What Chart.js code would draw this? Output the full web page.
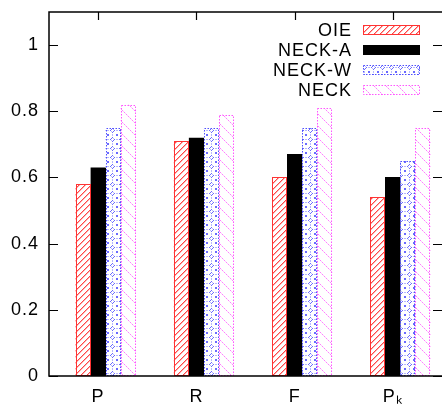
<!DOCTYPE html>
<html>
<head>
<meta charset="utf-8">
<script src="https://cdn.jsdelivr.net/npm/chart.js@4/dist/chart.umd.min.js"></script>
<style>
html,body{margin:0;padding:0;background:#fff;}
#wrap{width:442px;height:405px;overflow:hidden;position:relative;}
#c{position:absolute;left:0;top:0;}
</style>
</head>
<body>
<div id="wrap"><canvas id="c" width="442" height="405"></canvas></div>
<script>
const categories = ['P', 'R', 'F', 'Pₖ'];
const seriesNames = ['OIE', 'NECK-A', 'NECK-W', 'NECK'];
const oie   = [0.58, 0.71, 0.60, 0.54];
const neckA = [0.63, 0.72, 0.67, 0.60];
const neckW = [0.75, 0.75, 0.75, 0.65];
const neck  = [0.82, 0.79, 0.81, 0.75];
const spacer = [null, null, null, null];
const yTicks = [0, 0.2, 0.4, 0.6, 0.8, 1];

const FONT = '"Liberation Sans", Arial, sans-serif';

function tile(w, h, draw) {
  const c = document.createElement('canvas');
  c.width = w; c.height = h;
  const g = c.getContext('2d');
  g.fillStyle = '#ffffff'; g.fillRect(0, 0, w, h);
  draw(g);
  return document.getElementById('c').getContext('2d').createPattern(c, 'repeat');
}
const patOIE = tile(6, 6, g => {
  for (let i = 0; i < 6; i++) {
    g.fillStyle = '#ff4646'; g.fillRect(i, 5 - i, 1, 1);
    g.fillStyle = '#ffb0b0'; g.fillRect(i, (6 - i) % 6, 1, 1);
  }
});
const patW = tile(9, 9, g => {
  g.fillStyle = '#6a6aff';
  [[4,2],[2,4],[6,4],[4,6],[3,3],[5,5],[0,0],[8,8],[8,0],[0,8]].forEach(p => g.fillRect(p[0], p[1], 1, 1));
  g.fillStyle = '#b8b8ff';
  [[3,5],[5,3],[4,0],[0,4],[8,4],[4,8]].forEach(p => g.fillRect(p[0], p[1], 1, 1));
});
const patN = tile(12, 12, g => {
  for (let i = 0; i < 12; i += 2) {
    g.fillStyle = '#ff80ff'; g.fillRect(i, i, 1, 1);
    g.fillStyle = '#ffc8ff'; g.fillRect(i + 1, i + 1, 1, 1);
  }
});

const styles = [
  { fill: patOIE, line: '#ff3333', dash: [] },
  { fill: '#000000', line: '#000000', dash: [] },
  { fill: patW, line: '#4f4fff', dash: [1.5, 1.5] },
  { fill: patN, line: '#ff55ff', dash: [1.5, 1.5] }
];
const values = [oie, neckA, neckW, neck];

const datasets = [{ label: '', data: spacer, backgroundColor: 'rgba(0,0,0,0)', isSpacer: true }];
values.forEach((v, i) => datasets.push({
  label: seriesNames[i], data: v,
  backgroundColor: styles[i].fill, borderWidth: 0,
  outlineColor: styles[i].line, outlineDash: styles[i].dash
}));

const framePlugin = {
  id: 'frame',
  beforeDraw(chart) {
    chart.ctx.letterSpacing = '1px';
  },
  beforeDatasetsDraw(chart) {
    const { ctx, chartArea: a, scales } = chart;
    ctx.save();
    ctx.strokeStyle = '#000'; ctx.lineWidth = 1.2;
    ctx.beginPath();
    yTicks.forEach(t => {
      const y = Math.round(scales.y.getPixelForValue(t)) + 0.5;
      ctx.moveTo(a.left, y); ctx.lineTo(a.left + 9, y);
      ctx.moveTo(a.right, y); ctx.lineTo(a.right - 9, y);
    });
    categories.forEach((c, i) => {
      const x = Math.round(scales.x.getPixelForValue(i)) + 0.5;
      ctx.moveTo(x, a.top); ctx.lineTo(x, a.top + 8);
      ctx.moveTo(x, a.bottom); ctx.lineTo(x, a.bottom - 8);
    });
    ctx.stroke();
    ctx.restore();
  },
  afterDatasetsDraw(chart) {
    const { ctx, chartArea: a } = chart;
    ctx.save();
    chart.data.datasets.forEach((ds, di) => {
      if (ds.isSpacer) return;
      const meta = chart.getDatasetMeta(di);
      ctx.strokeStyle = ds.outlineColor; ctx.lineWidth = 1;
      ctx.setLineDash(ds.outlineDash);
      meta.data.forEach(el => {
        const p = el.getProps(['x', 'y', 'base', 'width'], true);
        if (!isFinite(p.y)) return;
        ctx.strokeRect(Math.round(p.x - p.width / 2) + 0.5, Math.round(p.y) + 0.5,
                       Math.round(p.width) - 1, Math.round(p.base - p.y) - 1);
      });
    });
    ctx.setLineDash([]);
    // frame: left, top, bottom (right edge lies just outside the picture)
    ctx.strokeStyle = '#000'; ctx.lineWidth = 1.5;
    ctx.beginPath();
    ctx.moveTo(a.right + 2, a.top); ctx.lineTo(a.left, a.top);
    ctx.lineTo(a.left, a.bottom); ctx.lineTo(a.right + 2, a.bottom);
    ctx.stroke();
    // legend
    ctx.font = '18px ' + FONT;
    ctx.letterSpacing = '1px';
    ctx.textAlign = 'right'; ctx.textBaseline = 'middle'; ctx.fillStyle = '#000';
    const textX = a.right - 90, boxX = a.right - 79, boxW = 57, boxH = 10;
    let row = 0;
    chart.data.datasets.forEach(ds => {
      if (ds.isSpacer) return;
      const cy = a.top + 18 + row * 20;
      ctx.fillText(ds.label, textX, cy + 1);
      ctx.fillStyle = ds.backgroundColor;
      ctx.fillRect(boxX, cy - boxH / 2, boxW, boxH);
      ctx.strokeStyle = ds.outlineColor; ctx.lineWidth = 1;
      ctx.setLineDash(ds.outlineDash);
      ctx.strokeRect(boxX + 0.5, cy - boxH / 2 + 0.5, boxW - 1, boxH - 1);
      ctx.setLineDash([]);
      ctx.fillStyle = '#000';
      row++;
    });
    ctx.restore();
  }
};

new Chart(document.getElementById('c'), {
  type: 'bar',
  data: { labels: categories, datasets },
  options: {
    responsive: false,
    devicePixelRatio: 1,
    animation: false,
    layout: { padding: { top: 12, right: 0, left: 0, bottom: 0 } },
    datasets: { bar: { categoryPercentage: 0.765, barPercentage: 1 } },
    plugins: { legend: { display: false }, tooltip: { enabled: false } },
    scales: {
      x: {
        grid: { display: false, drawTicks: false },
        border: { display: false },
        ticks: { color: '#000', font: { family: FONT, size: 18 }, padding: 10, maxRotation: 0 },
        afterFit(s) { s.height = 29; s.paddingLeft = 0; s.paddingRight = 0; }
      },
      y: {
        min: 0, max: 1.1,
        grid: { display: false, drawTicks: false },
        border: { display: false },
        afterBuildTicks(s) { s.ticks = yTicks.map(v => ({ value: v })); },
        ticks: {
          color: '#000', font: { family: FONT, size: 18 }, padding: 10,
          callback: v => String(+(+v).toFixed(1))
        },
        afterFit(s) { s.width = 49; s.paddingTop = 0; s.paddingBottom = 0; }
      }
    }
  },
  plugins: [framePlugin]
});
</script>
</body>
</html>
